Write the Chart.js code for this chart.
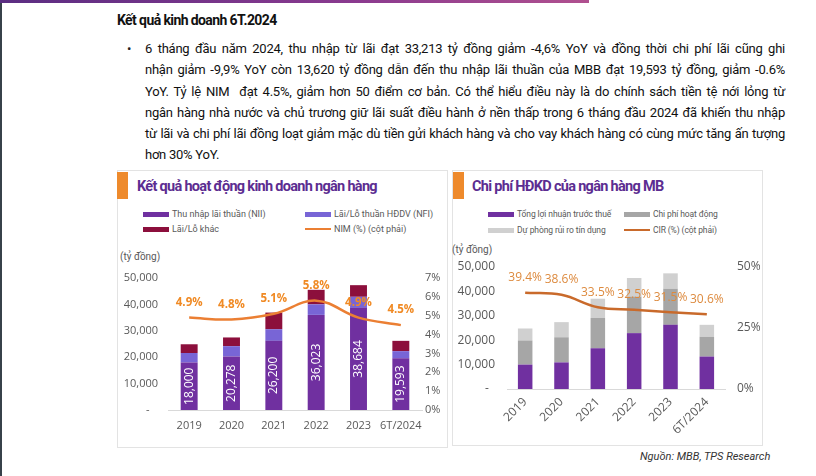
<!DOCTYPE html>
<html lang="vi">
<head>
<meta charset="utf-8">
<script src="https://cdn.jsdelivr.net/npm/chart.js@4.4.1/dist/chart.umd.min.js"></script>
<style>
  body { margin:0; width:816px; height:476px; background:#fff; position:relative; overflow:hidden; font-family:Roboto, "Open Sans", sans-serif; color:#222; }
  .abs { position:absolute; }
  #edge { left:0; top:0; width:2px; height:476px; background:#37414a; }
  #topbar { left:0; top:0; width:589px; height:3px; background:linear-gradient(90deg,#5b2d82,#8a3a8f 60%,#b0508f); }
  #heading { left:117px; top:10px; font-size:14px; font-weight:700; letter-spacing:-0.6px; color:#111; line-height:20px; }
  #bullet { left:127px; top:38px; font-size:13px; line-height:21.3px; }
  #para { left:145px; top:38px; width:640px; font-size:13px; letter-spacing:-0.25px; line-height:21.3px; color:#111; }
  #para div { text-align:justify; text-align-last:justify; white-space:nowrap; }
  #para div.last { text-align-last:left; }
  .card { border:1px solid #e3e3e3; box-sizing:border-box; }
  .accent { background:#ee8a2c; width:11px; height:27px; }
  .title { font-size:14.5px; font-weight:700; color:#5c2d91; letter-spacing:-0.7px; line-height:20px; }
  .leg { font-size:9px; color:#595959; line-height:12px; display:flex; align-items:center; white-space:nowrap; }
  #legRight .leg { font-size:8.5px; letter-spacing:-0.1px; }
  .sw { display:inline-block; width:26px; height:5px; margin-right:3px; }
  .swl { display:inline-block; width:26px; height:2px; margin-right:3px; }
  .unit { font-size:10px; color:#595959; }
  #source { left:640px; top:450px; font-size:11px; font-style:italic; color:#333; }
</style>
</head>
<body>
<div id="edge" class="abs"></div>
<div id="topbar" class="abs"></div>
<div id="heading" class="abs">Kết quả kinh doanh 6T.2024</div>
<div id="bullet" class="abs">•</div>
<div id="para" class="abs">
  <div>6 tháng đầu năm 2024, thu nhập từ lãi đạt 33,213 tỷ đồng giảm -4,6% YoY và đồng thời chi phí lãi cũng ghi</div>
  <div>nhận giảm -9,9% YoY còn 13,620 tỷ đồng dẫn đến thu nhập lãi thuần của MBB đạt 19,593 tỷ đồng, giảm -0.6%</div>
  <div>YoY. Tỷ lệ NIM &nbsp;đạt 4.5%, giảm hơn 50 điểm cơ bản. Có thể hiểu điều này là do chính sách tiền tệ nới lỏng từ</div>
  <div>ngân hàng nhà nước và chủ trương giữ lãi suất điều hành ở nền thấp trong 6 tháng đầu 2024 đã khiến thu nhập</div>
  <div>từ lãi và chi phí lãi đồng loạt giảm mặc dù tiền gửi khách hàng và cho vay khách hàng có cùng mức tăng ấn tượng</div>
  <div class="last">hơn 30% YoY.</div>
</div>

<!-- left card -->
<div class="abs card" style="left:117px;top:170px;width:331px;height:278px;"></div>
<div class="abs accent" style="left:117px;top:172px;"></div>
<div class="abs title" style="left:137px;top:177px;">Kết quả hoạt động kinh doanh ngân hàng</div>
<div id="legLeft"></div>
<div class="abs unit" style="left:120px;top:251px;">(tỷ đồng)</div>
<canvas id="chartLeft" class="abs" style="left:118px;top:265px;" width="329" height="178"></canvas>

<!-- right card -->
<div class="abs card" style="left:452px;top:170px;width:311px;height:276px;"></div>
<div class="abs accent" style="left:453px;top:172px;"></div>
<div class="abs title" style="left:472px;top:177px;">Chi phí HĐKD của ngân hàng MB</div>
<div id="legRight"></div>
<div class="abs unit" style="left:452px;top:244px;">(tỷ đồng)</div>
<canvas id="chartRight" class="abs" style="left:452px;top:255px;" width="308" height="189"></canvas>

<div id="source" class="abs">Nguồn: MBB, TPS Research</div>

<script>
// Kết quả hoạt động kinh doanh (tỷ đồng)
const years = ['2019', '2020', '2021', '2022', '2023', '6T/2024'];
const nii = [18000, 20278, 26200, 36023, 38684, 19593];
const nfi = [3600, 3900, 4400, 4000, 4200, 2700];
const otherIncome = [3300, 3300, 6300, 5500, 4400, 3900];
const nim = [4.9, 4.8, 5.1, 5.8, 4.9, 4.5];

// Chi phí HĐKD (tỷ đồng)
const pbt = [10000, 10900, 16700, 22900, 26300, 13300];
const opex = [9900, 10300, 12400, 15000, 14800, 8100];
const provision = [4900, 6200, 7900, 7600, 6300, 4900];
const cir = [39.4, 38.6, 33.5, 32.5, 31.5, 30.6];

const leftNames = ['Thu nhập lãi thuần (NII)', 'Lãi/Lỗ thuần HĐDV (NFI)', 'Lãi/Lỗ khác', 'NIM (%) (cột phải)'];
const rightNames = ['Tổng lợi nhuận trước thuế', 'Chi phí hoạt động', 'Dự phòng rủi ro tín dụng', 'CIR (%) (cột phải)'];

const C = {
  nii: '#7030a0', nfi: '#7865d6', other: '#8c0f3c', nim: '#eb7f33',
  pbt: '#7030a0', opex: '#a6a6a6', prov: '#d0d0d0', cir: '#c96a2b',
  tick: '#595959'
};

// legend html (2 cột)
function buildLegend(id, names, colors, x1, x2, y1, y2) {
  const box = document.getElementById(id);
  const pos = [[x1, y1], [x2, y1], [x1, y2], [x2, y2]];
  names.forEach((n, i) => {
    const d = document.createElement('div');
    d.className = 'abs leg';
    d.style.left = pos[i][0] + 'px';
    d.style.top = (pos[i][1] - 6) + 'px';
    const s = document.createElement('span');
    s.className = i == 3 ? 'swl' : 'sw';
    s.style.background = colors[i];
    d.appendChild(s);
    d.appendChild(document.createTextNode(n));
    box.appendChild(d);
  });
}
buildLegend('legLeft', leftNames, [C.nii, C.nfi, C.other, C.nim], 143, 305, 214, 229);
buildLegend('legRight', rightNames, [C.pbt, C.opex, C.prov, C.cir], 488, 624, 214, 230);

// nhãn số liệu
const valueLabels = {
  id: 'valueLabels',
  afterDatasetsDraw(chart, args, opts) {
    const ctx = chart.ctx;
    ctx.save();
    ctx.textAlign = 'center';
    ctx.textBaseline = 'middle';
    if (opts.barIndex !== undefined) {
      const meta = chart.getDatasetMeta(opts.barIndex);
      const data = chart.data.datasets[opts.barIndex].data;
      ctx.fillStyle = '#fff';
      ctx.font = opts.barFont;
      meta.data.forEach((bar, i) => {
        const p = bar.getProps(['x', 'y', 'base'], true);
        ctx.save();
        ctx.translate(p.x, (p.y + p.base) / 2);
        ctx.rotate(-Math.PI / 2);
        ctx.fillText(data[i].toLocaleString('en-US'), 0, 0);
        ctx.restore();
      });
    }
    const lm = chart.getDatasetMeta(opts.lineIndex);
    const ld = chart.data.datasets[opts.lineIndex].data;
    ctx.fillStyle = opts.lineColor;
    ctx.font = opts.lineFont;
    lm.data.forEach((pt, i) => {
      ctx.fillText(ld[i].toFixed(1) + '%', pt.x, pt.y - 15);
    });
    ctx.restore();
  }
};

function tickFont(size) {
  return { family: '"Open Sans", sans-serif', size: size };
}
const noGrid = { display: false, drawTicks: false };

// cố định kích thước trục, bỏ padding tự tính
function fixY(w) {
  return s => { s.width = w; s.paddingTop = 0; s.paddingBottom = 0; };
}
function fixX(h) {
  return s => { s.height = h; s.paddingLeft = 0; s.paddingRight = 0; };
}

new Chart(document.getElementById('chartLeft'), {
  type: 'bar',
  plugins: [valueLabels],
  data: {
    labels: years,
    datasets: [
      { label: leftNames[0], data: nii, backgroundColor: C.nii, order: 1 },
      { label: leftNames[1], data: nfi, backgroundColor: C.nfi, order: 1 },
      { label: leftNames[2], data: otherIncome, backgroundColor: C.other, order: 1 },
      { type: 'line', label: leftNames[3], data: nim, yAxisID: 'y1', borderColor: C.nim,
        borderWidth: 2.5, pointRadius: 0, tension: 0.4, order: 0 }
    ]
  },
  options: {
    responsive: false,
    animation: false,
    layout: { padding: { top: 13 } },
    datasets: { bar: { barPercentage: 0.4, categoryPercentage: 1 } },
    plugins: {
      legend: { display: false },
      tooltip: { enabled: false },
      valueLabels: { barIndex: 0, barFont: '12px "Open Sans", sans-serif', lineIndex: 3,
        lineColor: '#f08a24', lineFont: 'bold 11.5px "Open Sans", sans-serif' }
    },
    scales: {
      x: {
        stacked: true,
        grid: noGrid,
        border: { display: true, color: '#d9d9d9' },
        ticks: { color: C.tick, font: tickFont(11), padding: 9, maxRotation: 0, autoSkip: false },
        afterFit: fixX(33)
      },
      y: {
        stacked: true, min: 0, max: 50000,
        grid: noGrid,
        border: { display: false },
        ticks: { stepSize: 10000, color: C.tick, font: tickFont(11), padding: 10,
          callback: v => v === 0 ? '-   ' : v.toLocaleString('en-US') },
        afterFit: fixY(50)
      },
      y1: {
        position: 'right', min: 0, max: 7,
        grid: noGrid,
        border: { display: false },
        ticks: { stepSize: 1, color: C.tick, font: tickFont(11), padding: 3, callback: v => v + '%' },
        afterFit: fixY(25)
      }
    }
  }
});

new Chart(document.getElementById('chartRight'), {
  type: 'bar',
  plugins: [valueLabels],
  data: {
    labels: years,
    datasets: [
      { label: rightNames[0], data: pbt, backgroundColor: C.pbt, order: 1 },
      { label: rightNames[1], data: opex, backgroundColor: C.opex, order: 1 },
      { label: rightNames[2], data: provision, backgroundColor: C.prov, order: 1 },
      { type: 'line', label: rightNames[3], data: cir, yAxisID: 'y1', borderColor: C.cir,
        borderWidth: 2.5, pointRadius: 0, tension: 0.4, order: 0 }
    ]
  },
  options: {
    responsive: false,
    animation: false,
    layout: { padding: { top: 12 } },
    datasets: { bar: { barPercentage: 0.4, categoryPercentage: 1 } },
    plugins: {
      legend: { display: false },
      tooltip: { enabled: false },
      valueLabels: { lineIndex: 3, lineColor: '#dd8a3e', lineFont: '12px "Open Sans", sans-serif' }
    },
    scales: {
      x: {
        stacked: true,
        grid: noGrid,
        border: { display: true, color: '#d9d9d9' },
        ticks: { color: C.tick, font: tickFont(12), padding: 6, minRotation: 45, maxRotation: 45, autoSkip: false },
        afterFit: fixX(55)
      },
      y: {
        stacked: true, min: 0, max: 50000,
        grid: noGrid,
        border: { display: false },
        ticks: { stepSize: 10000, color: C.tick, font: tickFont(12), padding: 12,
          callback: v => v === 0 ? '-  ' : v.toLocaleString('en-US') },
        afterFit: fixY(55)
      },
      y1: {
        position: 'right', min: 0, max: 50,
        grid: noGrid,
        border: { display: false },
        ticks: { stepSize: 25, color: C.tick, font: tickFont(12), padding: 12, callback: v => v + '%' },
        afterFit: fixY(35)
      }
    }
  }
});
</script>
</body>
</html>
